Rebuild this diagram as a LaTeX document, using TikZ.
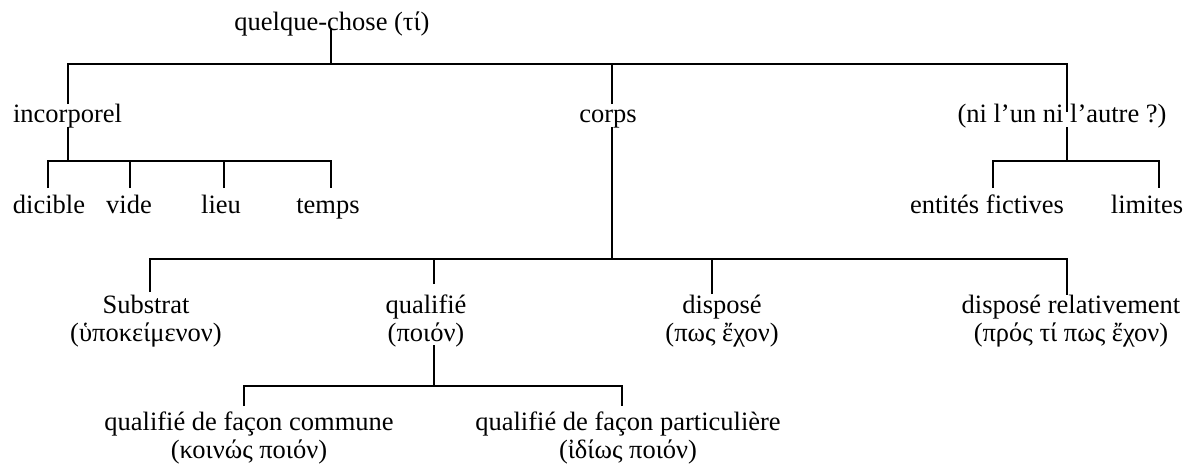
\documentclass[tikz,border=0pt]{standalone}
\usepackage{fontspec}
\setmainfont{Liberation Serif}
\begin{document}
\begin{tikzpicture}[x=0.5pt,y=-0.5pt,
  lbl/.style={anchor=base,inner sep=0pt,align=center,font=\fontsize{13.25}{14}\selectfont},
  tree/.style={line width=1pt}]
\useasboundingbox (0,0) rectangle (1187,466);
% labels (base anchor = baseline of the last line)
\node[lbl] (root) at (332,30) {quelque-chose (τί)};
\node[lbl] (incorp) at (67.5,122) {incorporel};
\node[lbl] (corps) at (608,122) {corps};
\node[lbl] (ni) at (1062,122) {(ni l’un ni l’autre ?)};
\node[lbl] (dicible) at (49,213) {dicible};
\node[lbl] (vide) at (129,213) {vide};
\node[lbl] (lieu) at (221,213) {lieu};
\node[lbl] (temps) at (328,213) {temps};
\node[lbl] (fict) at (987,213) {entités fictives};
\node[lbl] (lim) at (1147,213) {limites};
\node[lbl] (subst) at (146,341) {Substrat\\(ὑποκείμενον)};
\node[lbl] (qual) at (426,341) {qualifié\\(ποιόν)};
\node[lbl] (disp) at (722,341) {disposé\\(πως ἔχον)};
\node[lbl] (disprel) at (1071,341) {disposé relativement\\(πρός τί πως ἔχον)};
\node[lbl] (qcom) at (249,458) {qualifié de façon commune\\(κοινώς ποιόν)};
\node[lbl] (qpart) at (628,458) {qualifié de façon particulière\\(ἰδίως ποιόν)};
% junction coordinates
\coordinate (rootdown) at (331,28);
\coordinate (bus1) at (331,64);
\coordinate (incup) at (68,104);
\coordinate (corpsup) at (612,104);
\coordinate (niup) at (1067,112);
\coordinate (incdown) at (68,127);
\coordinate (bus2) at (68,161);
\coordinate (dicup) at (48,188);
\coordinate (videup) at (130,188);
\coordinate (lieuup) at (224,188);
\coordinate (tempsup) at (331,188);
\coordinate (nidown) at (1067,127);
\coordinate (bus3) at (1067,161);
\coordinate (fictup) at (993,188);
\coordinate (limup) at (1159,188);
\coordinate (corpsdown) at (612,127);
\coordinate (bus4) at (612,259);
\coordinate (substup) at (150,292);
\coordinate (qualup) at (434,284);
\coordinate (dispup) at (712,294);
\coordinate (disprelup) at (1067,295);
\coordinate (qualdown) at (434,345);
\coordinate (bus5) at (434,386);
\coordinate (qcomup) at (244,406);
\coordinate (qpartup) at (622,406);
% connectors
\draw[tree] (rootdown) -- (bus1);
\draw[tree] (incup) |- (bus1) -| (niup);
\draw[tree] (corpsup) -- (corpsup |- bus1);
\draw[tree] (incdown) -- (bus2);
\draw[tree] (dicup) |- (bus2) -| (tempsup);
\draw[tree] (videup) -- (videup |- bus2);
\draw[tree] (lieuup) -- (lieuup |- bus2);
\draw[tree] (nidown) -- (bus3);
\draw[tree] (fictup) |- (bus3) -| (limup);
\draw[tree] (corpsdown) -- (bus4);
\draw[tree] (substup) |- (bus4) -| (disprelup);
\draw[tree] (qualup) -- (qualup |- bus4);
\draw[tree] (dispup) -- (dispup |- bus4);
\draw[tree] (qualdown) -- (bus5);
\draw[tree] (qcomup) |- (bus5) -| (qpartup);
\end{tikzpicture}
\end{document}
